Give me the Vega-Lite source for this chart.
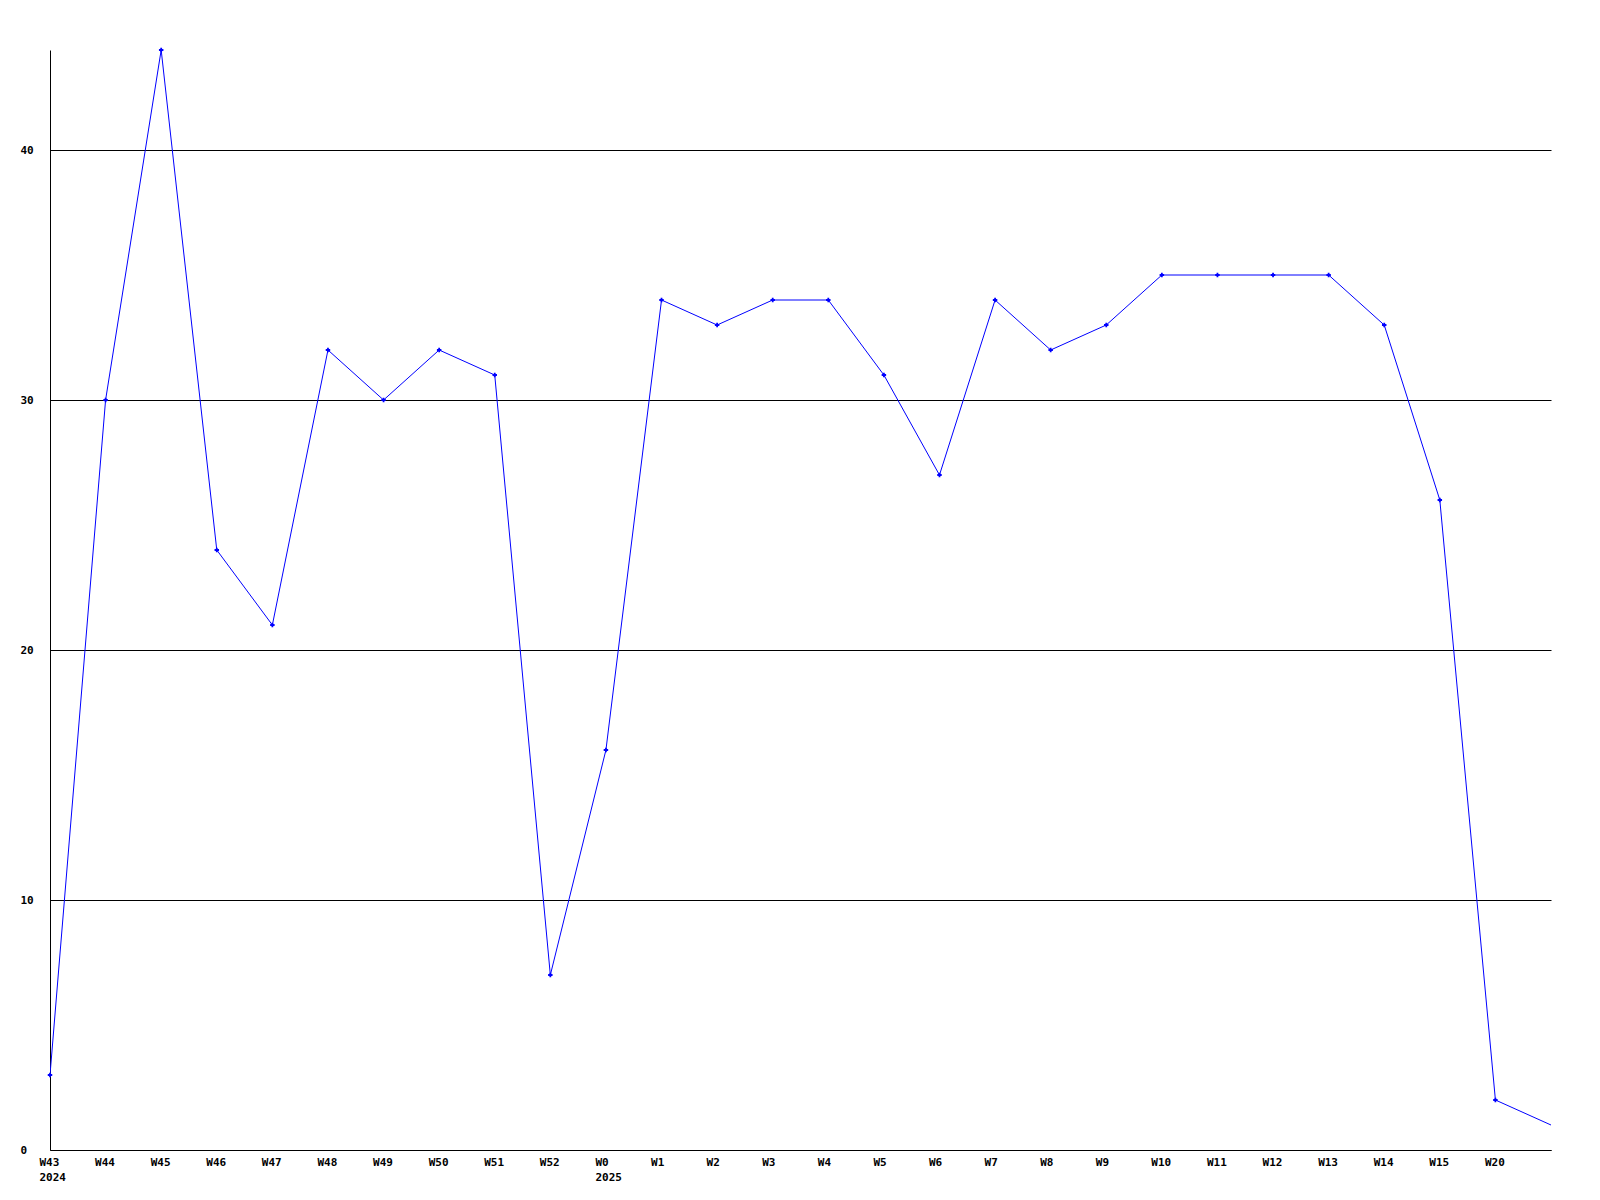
{
  "$schema": "https://vega.github.io/schema/vega-lite/v6.json",
  "width": 1501,
  "height": 1100,
  "autosize": {"type": "none"},
  "padding": {"left": 50, "top": 50, "right": 49, "bottom": 50},
  "background": "white",
  "config": {"view": {"stroke": null}},
  "data": {"values": [
    {"i": 0, "week": "W43", "v": 3},
    {"i": 1, "week": "W44", "v": 30},
    {"i": 2, "week": "W45", "v": 44},
    {"i": 3, "week": "W46", "v": 24},
    {"i": 4, "week": "W47", "v": 21},
    {"i": 5, "week": "W48", "v": 32},
    {"i": 6, "week": "W49", "v": 30},
    {"i": 7, "week": "W50", "v": 32},
    {"i": 8, "week": "W51", "v": 31},
    {"i": 9, "week": "W52", "v": 7},
    {"i": 10, "week": "W0", "v": 16},
    {"i": 11, "week": "W1", "v": 34},
    {"i": 12, "week": "W2", "v": 33},
    {"i": 13, "week": "W3", "v": 34},
    {"i": 14, "week": "W4", "v": 34},
    {"i": 15, "week": "W5", "v": 31},
    {"i": 16, "week": "W6", "v": 27},
    {"i": 17, "week": "W7", "v": 34},
    {"i": 18, "week": "W8", "v": 32},
    {"i": 19, "week": "W9", "v": 33},
    {"i": 20, "week": "W10", "v": 35},
    {"i": 21, "week": "W11", "v": 35},
    {"i": 22, "week": "W12", "v": 35},
    {"i": 23, "week": "W13", "v": 35},
    {"i": 24, "week": "W14", "v": 33},
    {"i": 25, "week": "W15", "v": 26},
    {"i": 26, "week": "W20", "v": 2},
    {"i": 27, "week": "", "v": 1}
  ]},
  "encoding": {
    "x": {
      "field": "i", "type": "quantitative",
      "scale": {"domain": [0, 27], "nice": false, "zero": false},
      "axis": {
        "title": null, "grid": false, "ticks": false,
        "domainColor": "black", "domainWidth": 1,
        "values": [0,1,2,3,4,5,6,7,8,9,10,11,12,13,14,15,16,17,18,19,20,21,22,23,24,25,26],
        "labelExpr": "datum.value == 0 ? ['W43','2024'] : datum.value == 10 ? ['W0','2025'] : ['W43','W44','W45','W46','W47','W48','W49','W50','W51','W52','W0','W1','W2','W3','W4','W5','W6','W7','W8','W9','W10','W11','W12','W13','W14','W15','W20'][datum.value]",
        "labelAlign": "left", "labelBaseline": "top", "labelPadding": 6, "labelOffset": -11,
        "labelLineHeight": 15,
        "labelFont": "DejaVu Sans Mono", "labelFontWeight": "bold", "labelFontSize": 11,
        "labelColor": "black", "labelOverlap": false, "labelBound": false, "labelFlush": false
      }
    },
    "y": {
      "field": "v", "type": "quantitative",
      "scale": {"domain": [0, 44], "nice": false},
      "axis": {
        "title": null, "values": [0, 10, 20, 30, 40],
        "grid": true, "gridColor": "black", "gridWidth": 1, "gridOpacity": 1,
        "ticks": false, "domainColor": "black", "domainWidth": 1,
        "labelAlign": "left", "labelPadding": 30, "labelBaseline": "middle",
        "labelFont": "DejaVu Sans Mono", "labelFontWeight": "bold", "labelFontSize": 11,
        "labelColor": "black"
      }
    }
  },
  "layer": [
    {"mark": {"type": "line", "color": "#0000ff", "strokeWidth": 1, "clip": true}},
    {"transform": [{"filter": "datum.week != ''"}],
     "mark": {"type": "point", "shape": "cross", "filled": true, "color": "#0000ff", "size": 20, "opacity": 1}}
  ]
}
